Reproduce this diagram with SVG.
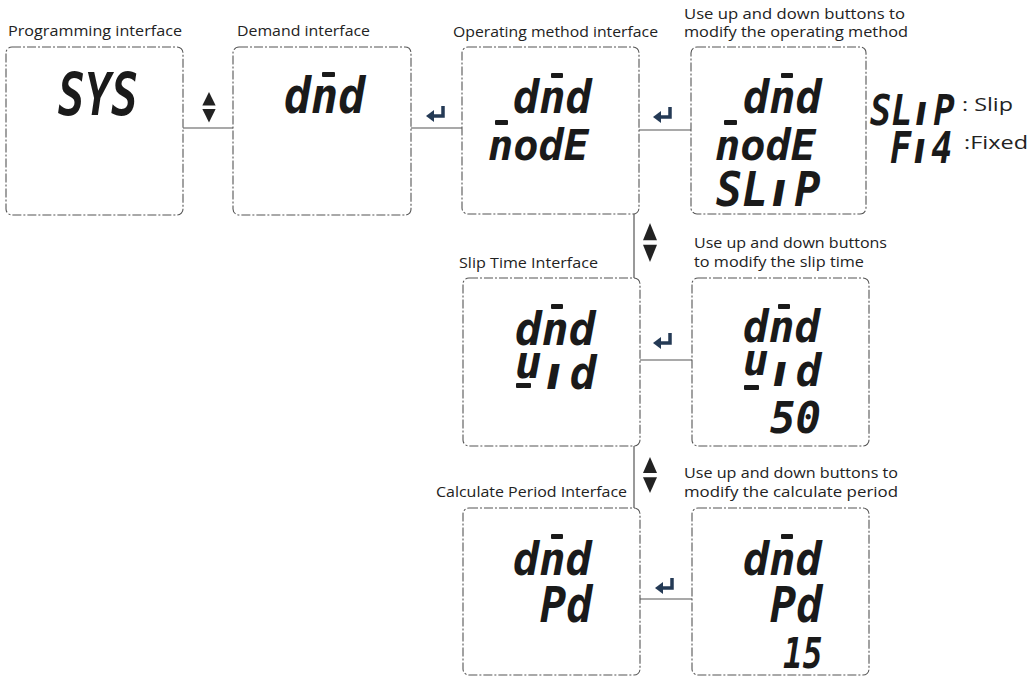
<svg xmlns="http://www.w3.org/2000/svg" xmlns:xlink="http://www.w3.org/1999/xlink" width="1031" height="677" viewBox="0 0 1031 677">
<style>
.box{fill:#fff;stroke:#555;stroke-width:1.1;stroke-dasharray:9 2 2 2}
.lbl{font-family:"Open Sans","Noto Sans",sans-serif;font-size:14px;fill:#222}
.key{font-family:"Open Sans","Noto Sans",sans-serif;font-size:19px;fill:#222}
.lcd{font-family:"DejaVu Sans Mono",monospace;font-weight:bold;font-style:oblique;fill:#1a1a1a}
.i{font-family:"DejaVu Sans",sans-serif}
.bar{fill:#1a1a1a}
.con{stroke:#555;stroke-width:1.2;fill:none}
</style>
<defs>
<g id="ud" fill="#222"><polygon points="0,0 -7,15 7,15"/><polygon points="-7,19 7,19 0,34"/></g>
<g id="enter"><path d="M17 0 V10 H6" fill="none" stroke="#243a55" stroke-width="3.5"/><polygon points="0,10 8,4 8,16" fill="#243a55"/></g>
</defs>
<rect width="1031" height="677" fill="#fff"/>
<g id="connectors">
<line class="con" x1="183" y1="128" x2="233" y2="128"/>
<line class="con" x1="411" y1="128" x2="462" y2="128"/>
<line class="con" x1="639" y1="130" x2="691" y2="130"/>
<line class="con" x1="634" y1="214" x2="634" y2="278"/>
<line class="con" x1="640" y1="360" x2="692" y2="360"/>
<line class="con" x1="634" y1="446" x2="634" y2="508"/>
<line class="con" x1="640" y1="599" x2="692" y2="599"/>
<use xlink:href="#ud" transform="translate(209,92) scale(0.95,0.9)"/>
<use xlink:href="#ud" transform="translate(650,223) scale(1,1.15)"/>
<use xlink:href="#ud" transform="translate(650,457) scale(1,1.06)"/>
<use xlink:href="#enter" x="426" y="106"/>
<use xlink:href="#enter" x="653" y="107"/>
<use xlink:href="#enter" x="653" y="333"/>
<use xlink:href="#enter" x="655" y="578"/>
</g>
<g id="n1">
<text class="lbl" x="8" y="36" textLength="174" lengthAdjust="spacingAndGlyphs">Programming interface</text>
<rect class="box" x="6" y="47" width="177" height="168" rx="6"/>
<text class="lcd" font-size="59" transform="translate(58,115) scale(0.75,1)">SYS</text>
</g>
<g id="n2">
<text class="lbl" x="237" y="36" textLength="133" lengthAdjust="spacingAndGlyphs">Demand interface</text>
<rect class="box" x="233" y="47" width="178" height="168" rx="6"/>
<text class="lcd" font-size="50" transform="translate(284,113) scale(0.9,1)">dnd</text>
<rect class="bar" x="322" y="72" width="13" height="5" rx="1"/>
</g>
<g id="n3">
<text class="lbl" x="453" y="37" textLength="205" lengthAdjust="spacingAndGlyphs">Operating method interface</text>
<rect class="box" x="462" y="47" width="177" height="167" rx="6"/>
<text class="lcd" font-size="46" transform="translate(513,113) scale(0.95,1)">dnd</text>
<rect class="bar" x="551" y="73" width="12" height="5" rx="1"/>
<text class="lcd" font-size="42" transform="translate(488,160) scale(1,1)">nodE</text>
<rect class="bar" x="495" y="120" width="13" height="5" rx="1"/>
</g>
<g id="n4">
<text class="lbl" x="684" y="19" textLength="221" lengthAdjust="spacingAndGlyphs">Use up and down buttons to</text>
<text class="lbl" x="684" y="37" textLength="224" lengthAdjust="spacingAndGlyphs">modify the operating method</text>
<rect class="box" x="691" y="47" width="175" height="167" rx="6"/>
<text class="lcd" font-size="46" transform="translate(743,113) scale(0.95,1)">dnd</text>
<rect class="bar" x="781" y="73" width="12" height="5" rx="1"/>
<text class="lcd" font-size="42" transform="translate(715,160) scale(1,1)">nodE</text>
<rect class="bar" x="724" y="120" width="13" height="5" rx="1"/>
<text class="lcd" font-size="48" transform="translate(716,206) scale(0.9,1)">SL<tspan class="i" dx="4">ı</tspan><tspan dx="9">P</tspan></text>
</g>
<g id="legend">
<text class="lcd" font-size="43" transform="translate(870,125) scale(0.82,1)">SL<tspan class="i" dx="3">ı</tspan><tspan dx="8">P</tspan></text>
<text class="key" x="962" y="111" textLength="51" lengthAdjust="spacingAndGlyphs">: Slip</text>
<text class="lcd" font-size="44" transform="translate(890,163) scale(0.8,1)">F<tspan class="i" dx="3">ı</tspan><tspan dx="7">4</tspan></text>
<text class="key" x="964" y="149" textLength="64" lengthAdjust="spacingAndGlyphs">:Fixed</text>
</g>
<g id="n5">
<text class="lbl" x="459" y="268" textLength="139" lengthAdjust="spacingAndGlyphs">Slip Time Interface</text>
<rect class="box" x="463" y="278" width="177" height="168" rx="6"/>
<text class="lcd" font-size="46" transform="translate(515,345) scale(0.97,1)">dnd</text>
<rect class="bar" x="551" y="304" width="12" height="5" rx="1"/>
<text class="lcd" font-size="46" transform="translate(515,389) scale(0.97,1)"><tspan dy="-11">u</tspan><tspan class="i" dx="4" dy="11">ı</tspan><tspan dx="9">d</tspan></text>
<rect class="bar" x="516" y="383" width="15" height="5" rx="1"/>
</g>
<g id="n6">
<text class="lbl" x="694" y="248" textLength="193" lengthAdjust="spacingAndGlyphs">Use up and down buttons</text>
<text class="lbl" x="694" y="267" textLength="170" lengthAdjust="spacingAndGlyphs">to modify the slip time</text>
<rect class="box" x="692" y="278" width="177" height="168" rx="6"/>
<text class="lcd" font-size="45" transform="translate(743,342) scale(0.95,1)">dnd</text>
<rect class="bar" x="778" y="304" width="12" height="5" rx="1"/>
<text class="lcd" font-size="45" transform="translate(743,386) scale(0.95,1)"><tspan dy="-11">u</tspan><tspan class="i" dx="4" dy="11">ı</tspan><tspan dx="9">d</tspan></text>
<rect class="bar" x="744" y="385" width="15" height="5" rx="1"/>
<text class="lcd" font-size="45" transform="translate(770,433) scale(0.94,1)">50</text>
</g>
<g id="n7">
<text class="lbl" x="436" y="497" textLength="191" lengthAdjust="spacingAndGlyphs">Calculate Period Interface</text>
<rect class="box" x="463" y="508" width="177" height="167" rx="6"/>
<text class="lcd" font-size="46" transform="translate(513,575) scale(0.95,1)">dnd</text>
<rect class="bar" x="551" y="534" width="12" height="5" rx="1"/>
<text class="lcd" font-size="50" transform="translate(540,622) scale(0.87,1)">Pd</text>
</g>
<g id="n8">
<text class="lbl" x="684" y="478" textLength="214" lengthAdjust="spacingAndGlyphs">Use up and down buttons to</text>
<text class="lbl" x="684" y="497" textLength="214" lengthAdjust="spacingAndGlyphs">modify the calculate period</text>
<rect class="box" x="692" y="508" width="177" height="167" rx="6"/>
<text class="lcd" font-size="46" transform="translate(743,575) scale(0.95,1)">dnd</text>
<rect class="bar" x="781" y="534" width="12" height="5" rx="1"/>
<text class="lcd" font-size="50" transform="translate(770,622) scale(0.87,1)">Pd</text>
<text class="lcd" font-size="42" transform="translate(783,668) scale(0.78,1)">15</text>
</g>
</svg>
